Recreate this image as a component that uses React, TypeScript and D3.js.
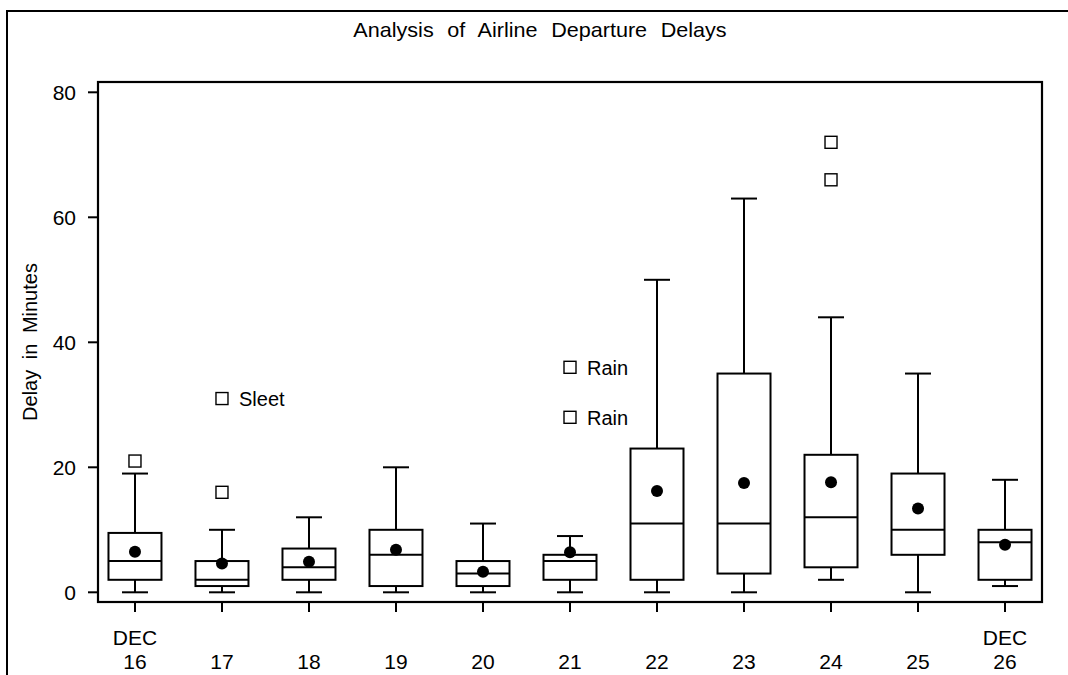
import * as d3 from "d3";

const days = ["16", "17", "18", "19", "20", "21", "22", "23", "24", "25", "26"];
const monthLabels = ["DEC", "", "", "", "", "", "", "", "", "", "DEC"];
const whiskerLow = [0, 0, 0, 0, 0, 0, 0, 0, 2, 0, 1];
const q1 = [2, 1, 2, 1, 1, 2, 2, 3, 4, 6, 2];
const medians = [5, 2, 4, 6, 3, 5, 11, 11, 12, 10, 8];
const q3 = [9.5, 5, 7, 10, 5, 6, 23, 35, 22, 19, 10];
const whiskerHigh = [19, 10, 12, 20, 11, 9, 50, 63, 44, 35, 18];
const means = [6.5, 4.6, 4.9, 6.8, 3.3, 6.4, 16.2, 17.5, 17.6, 13.4, 7.6];

// outliers: day, value, label
const outlierDays = ["16", "17", "17", "21", "21", "24", "24"];
const outlierValues = [21, 16, 31, 28, 36, 66, 72];
const outlierLabels = ["", "", "Sleet", "Rain", "Rain", "", ""];

const yTicks = [0, 20, 40, 60, 80];

const W = 1068;
const H = 675;
const plot = { left: 98, right: 1042, top: 82, bottom: 602 };
const FONT = "'Liberation Sans', Arial, Helvetica, sans-serif";

export default function App() {
  const x = d3
    .scalePoint<string>()
    .domain(days)
    .range([plot.left, plot.right])
    .padding(0.425);
  const y = d3.scaleLinear().domain([0, 80]).range([592.3, 92.3]);

  const boxW = 53;
  const capW = 26;
  const sq = 12;

  return (
    <svg
      width={W}
      height={H}
      style={{ position: "absolute", left: 0, top: 0, background: "#fff" }}
      fontFamily={FONT}
    >
      {/* outer frame */}
      <rect x={7} y={11} width={W} height={H} fill="none" stroke="#000" strokeWidth={2} />

      <text
        x={540}
        y={37}
        textAnchor="middle"
        fontSize={20}
        wordSpacing={7}
        transform="translate(540,0) scale(1.08,1) translate(-540,0)"
      >
        Analysis of Airline Departure Delays
      </text>

      {/* y axis label */}
      <text
        transform={`translate(37,342) rotate(-90)`}
        textAnchor="middle"
        fontSize={20}
        wordSpacing={5}
      >
        Delay in Minutes
      </text>

      {/* y ticks */}
      {yTicks.map((t) => (
        <g key={t}>
          <line x1={plot.left - 10} x2={plot.left} y1={y(t)} y2={y(t)} stroke="#000" strokeWidth={2} />
          <text x={76} y={y(t) + 7.5} textAnchor="end" fontSize={21}>
            {t}
          </text>
        </g>
      ))}

      {/* x ticks */}
      {days.map((d, i) => (
        <g key={d}>
          <line x1={x(d)} x2={x(d)} y1={plot.bottom} y2={plot.bottom + 10} stroke="#000" strokeWidth={2} />
          {monthLabels[i] && (
            <text x={x(d)} y={645} textAnchor="middle" fontSize={21}>
              {monthLabels[i]}
            </text>
          )}
          <text x={x(d)} y={669} textAnchor="middle" fontSize={21}>
            {d}
          </text>
        </g>
      ))}

      {/* boxes */}
      {days.map((d, i) => {
        const cx = x(d)!;
        return (
          <g key={"b" + d} stroke="#000" strokeWidth={2} fill="none">
            <line x1={cx} x2={cx} y1={y(whiskerHigh[i])} y2={y(q3[i])} />
            <line x1={cx} x2={cx} y1={y(q1[i])} y2={y(whiskerLow[i])} />
            <line x1={cx - capW / 2} x2={cx + capW / 2} y1={y(whiskerHigh[i])} y2={y(whiskerHigh[i])} />
            <line x1={cx - capW / 2} x2={cx + capW / 2} y1={y(whiskerLow[i])} y2={y(whiskerLow[i])} />
            <rect x={cx - boxW / 2} y={y(q3[i])} width={boxW} height={y(q1[i]) - y(q3[i])} />
            <line x1={cx - boxW / 2} x2={cx + boxW / 2} y1={y(medians[i])} y2={y(medians[i])} />
            <circle cx={cx} cy={y(means[i])} r={6} fill="#000" stroke="none" />
          </g>
        );
      })}

      {/* outliers */}
      {outlierDays.map((d, i) => {
        const cx = x(d)!;
        const cy = y(outlierValues[i]);
        return (
          <g key={"o" + i}>
            <rect x={cx - sq / 2} y={cy - sq / 2} width={sq} height={sq} fill="none" stroke="#000" strokeWidth={1.4} />
            {outlierLabels[i] && (
              <text x={cx + 17} y={cy + 7.5} fontSize={20}>
                {outlierLabels[i]}
              </text>
            )}
          </g>
        );
      })}

      {/* plot frame */}
      <rect
        x={plot.left}
        y={plot.top}
        width={plot.right - plot.left}
        height={plot.bottom - plot.top}
        fill="none"
        stroke="#000"
        strokeWidth={2.2}
      />
    </svg>
  );
}
